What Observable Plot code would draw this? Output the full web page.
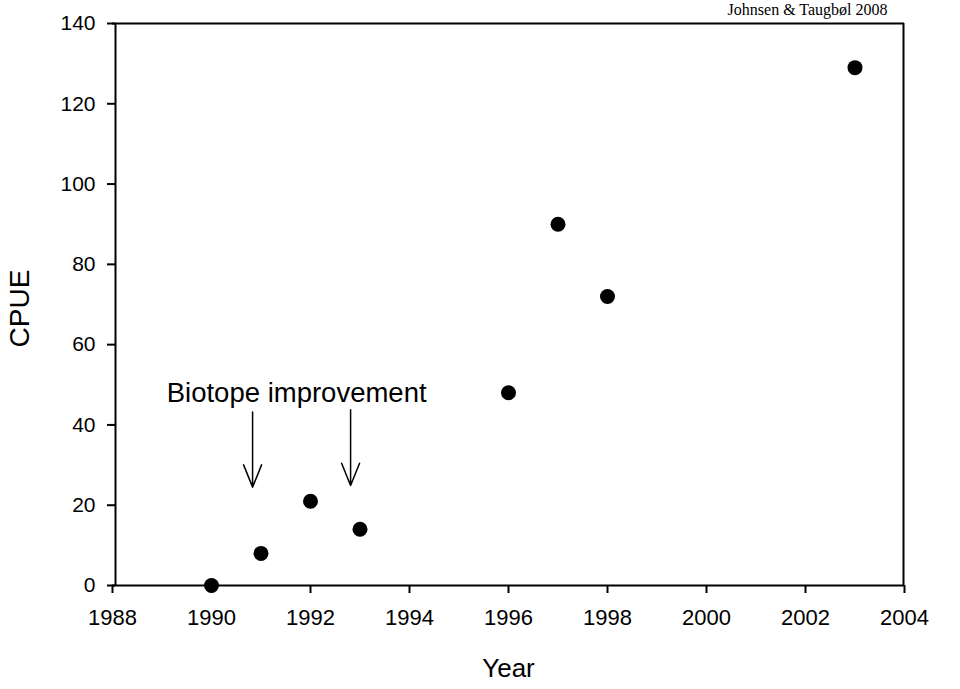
<!DOCTYPE html>
<html>
<head>
<meta charset="utf-8">
<script src="https://cdn.jsdelivr.net/npm/d3@7"></script>
<script src="https://cdn.jsdelivr.net/npm/@observablehq/plot@0.6"></script>
<style>
  html, body { margin: 0; padding: 0; background: #fff; }
  #chart svg { display: block; }
</style>
</head>
<body>
<div id="chart"></div>
<script>
// Data
const years = [1990, 1991, 1992, 1993, 1996, 1997, 1998, 2003];
const cpue  = [0, 8, 21, 14, 48, 90, 72, 129];

const xTicks = [1988, 1990, 1992, 1994, 1996, 1998, 2000, 2002, 2004];
const yTicks = [0, 20, 40, 60, 80, 100, 120, 140];

// annotation
const noteText = ["Biotope improvement"];
const noteX = [1991.72];
const noteY = [45.7];
const arrowX = [1990.83, 1992.81];
const arrowTop = [43.2, 43.8];
const arrowBottom = [24.5, 24.9];

const points = years.map((y, i) => ({year: y, cpue: cpue[i]}));
const arrows = arrowX.map((x, i) => ({x, y1: arrowTop[i], y2: arrowBottom[i]}));
const notes = noteText.map((t, i) => ({t, x: noteX[i], y: noteY[i]}));

const font = "'Liberation Sans', Arial, sans-serif";

const plot = Plot.plot({
  width: 960,
  height: 689,
  marginLeft: 112,
  marginRight: 56,
  marginTop: 23,
  marginBottom: 104,
  style: {fontFamily: font, fontSize: "21px", color: "#000", background: "#fff", overflow: "visible"},
  x: {domain: [1988, 2004], ticks: xTicks},
  y: {domain: [0, 140], ticks: yTicks},
  marks: [
    Plot.axisX({ticks: xTicks, tickFormat: d => String(d), tickSize: 8, tickPadding: 16, strokeWidth: 2, label: null, fontSize: 22}),
    Plot.axisY({ticks: yTicks, tickSize: 8, tickPadding: 12, dx: 3, strokeWidth: 2, label: null, fontSize: 21}),
    // frame
    Plot.ruleY([0], {stroke: "#000", strokeWidth: 2}),
    Plot.ruleY([140], {stroke: "#000", strokeWidth: 2}),
    Plot.ruleX([1988], {stroke: "#000", strokeWidth: 2, dx: 3}),
    Plot.ruleX([2004], {stroke: "#000", strokeWidth: 2, dx: -1}),
    // data
    Plot.dot(points, {x: "year", y: "cpue", r: 7.5, fill: "#000", stroke: "none"}),
    // annotation
    Plot.text(notes, {x: "x", y: "y", text: "t", fontSize: 27.5, lineAnchor: "bottom", textAnchor: "middle", fill: "#000"}),
    Plot.arrow(arrows, {x1: "x", y1: "y1", x2: "x", y2: "y2", stroke: "#000", strokeWidth: 1.5, headAngle: 44, headLength: 24, bend: 0}),
    // axis titles
    Plot.text(["CPUE"], {frameAnchor: "left", dx: -92, dy: 4, rotate: -90, fontSize: 28, textAnchor: "middle", lineAnchor: "middle", fill: "#000"}),
    Plot.text(["Year"], {frameAnchor: "bottom", dy: 83, fontSize: 26, textAnchor: "middle", lineAnchor: "middle", fill: "#000"}),
    Plot.text(["Johnsen & Taugbøl 2008"], {frameAnchor: "top-right", dx: -17, dy: -14, fontSize: 16, fontFamily: "'Liberation Serif', 'Times New Roman', serif", textAnchor: "end", lineAnchor: "middle", fill: "#000"})
  ]
});

document.getElementById("chart").appendChild(plot);
</script>
</body>
</html>
